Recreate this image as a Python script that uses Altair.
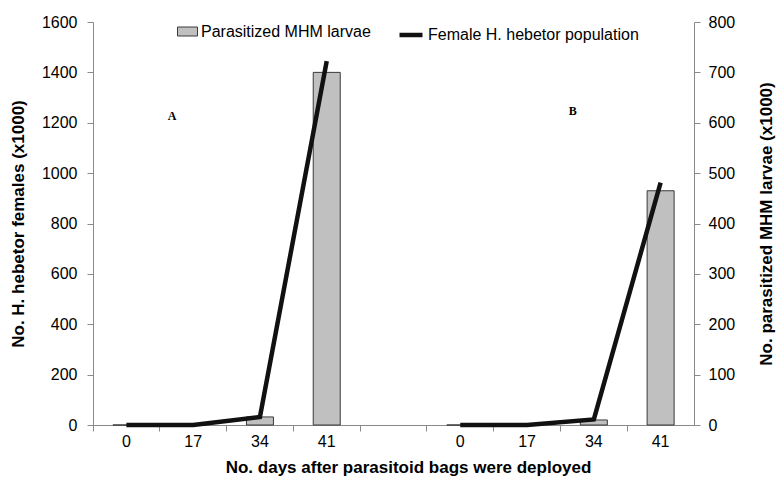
import altair as alt
import pandas as pd

# ---- data ----
days = ["0", "17", "34", "41"]
groups = ["A", "B"]
larvae_A = [0, 0, 16, 700]      # right axis (x1000)
larvae_B = [0, 0, 10, 465]
females_A = [0, 0, 32, 1445]    # left axis (x1000)
females_B = [0, 0, 22, 962]
slot_order = ["A0", "A17", "A34", "A41", "gap", "B0", "B17", "B34", "B41"]
panel_labels = ["A", "B"]
panel_slots = ["A17", "B34"]
panel_heights = [1227, 1247]

bar_name = "Parasitized MHM larvae"
line_name = "Female H. hebetor population"

rows = []
for g, lv, fv in [("A", larvae_A, females_A), ("B", larvae_B, females_B)]:
    for d, l, f in zip(days, lv, fv):
        rows.append({"group": g, "slot": g + d, "larvae": l, "females": f,
                     "bars": bar_name, "line": line_name})
df = pd.DataFrame(rows)
ann = pd.DataFrame({"label": panel_labels, "slot": panel_slots, "h": panel_heights})

FONT = "Liberation Sans"
W, H = 601, 403

x_scale = alt.Scale(domain=slot_order, paddingInner=0, paddingOuter=0)
x_axis = alt.Axis(
    title="No. days after parasitoid bags were deployed",
    labelExpr="datum.value == 'gap' ? '' : slice(datum.value, 1)",
    bandPosition=0, labelAngle=0, labelPadding=2,
    titleX=315, titleY=42, titleAlign="center", titleBaseline="middle",
)

bars = alt.Chart(df).mark_bar(size=27, stroke="#3a3a3a", strokeWidth=1).encode(
    x=alt.X("slot:N", scale=x_scale, axis=x_axis),
    y=alt.Y("larvae:Q", scale=alt.Scale(domain=[0, 800]),
            axis=alt.Axis(orient="right", values=list(range(0, 801, 100)), format="d",
                          title="No. parasitized MHM larvae (x1000)",
                          labelPadding=8, titleAngle=270, titleX=72, titleY=H / 2,
                          titleAlign="center", titleBaseline="middle")),
    fill=alt.Fill("bars:N", scale=alt.Scale(range=["#c0c0c0"]),
                  legend=alt.Legend(title=None, orient="none", legendX=84, legendY=-1,
                                    symbolType="M-1,-0.45H1V0.45H-1Z", symbolSize=400,
                                    symbolStrokeColor="#3a3a3a", symbolStrokeWidth=1,
                                    labelFontSize=16, labelFont=FONT, labelColor="black",
                                    labelOffset=3, labelLimit=400)),
)

line = alt.Chart(df).mark_line(strokeWidth=4.5).encode(
    x=alt.X("slot:N", scale=x_scale),
    y=alt.Y("females:Q", scale=alt.Scale(domain=[0, 1600]),
            axis=alt.Axis(orient="left", values=list(range(0, 1601, 200)), format="d",
                          title="No. H. hebetor females (x1000)",
                          labelPadding=10, titleAngle=270, titleX=-75, titleY=H / 2,
                          titleAlign="center", titleBaseline="middle")),
    stroke=alt.Stroke("line:N", scale=alt.Scale(range=["#111111"]),
                      legend=alt.Legend(title=None, orient="none", legendX=304, legendY=-1,
                                        symbolType="stroke", symbolSize=529,
                                        symbolStrokeWidth=4.5,
                                        labelFontSize=16, labelFont=FONT, labelColor="black",
                                        labelOffset=3, labelLimit=400)),
    detail="group:N",
)

text = alt.Chart(ann).mark_text(
    font="Liberation Serif", fontWeight="bold", fontSize=12, baseline="middle", dx=-21
).encode(
    x=alt.X("slot:N", scale=x_scale),
    y=alt.Y("h:Q", scale=alt.Scale(domain=[0, 1600]), axis=None),
    text="label:N",
)

chart = alt.layer(bars, line, text).resolve_scale(
    y="independent", fill="independent", stroke="independent"
).properties(
    width=W, height=H,
    autosize=alt.AutoSizeParams(type="none"),
    padding={"left": 93, "top": 22, "right": 82, "bottom": 55},
    background="white",
).configure_view(stroke=None).configure_axis(
    grid=False, domainColor="#8a8a8a", tickColor="#8a8a8a", tickSize=6,
    labelColor="black", titleColor="black", labelFont=FONT, titleFont=FONT,
    labelFontSize=16, titleFontSize=17, titleFontWeight="bold",
)

chart.save("out.html", embed_options={"renderer": "svg", "actions": False})
